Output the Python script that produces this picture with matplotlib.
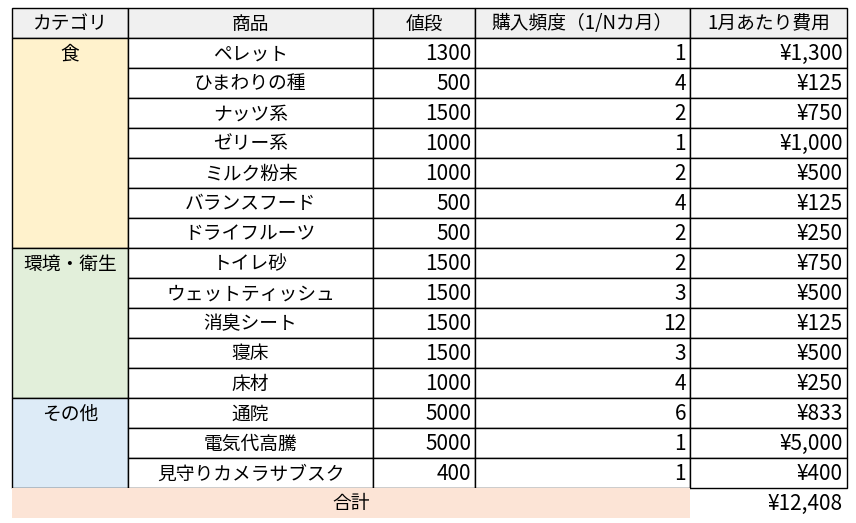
import matplotlib
matplotlib.use("Agg")
import matplotlib.pyplot as plt
from matplotlib.patches import Rectangle

plt.rcParams["font.family"] = ["Noto Sans CJK JP", "DejaVu Sans"]

headers = ["カテゴリ", "商品", "値段", "購入頻度（1/Nカ月）", "1月あたり費用"]
categories = [("食", 7, "#FFF2CC"), ("環境・衛生", 5, "#E2EFDA"), ("その他", 3, "#DDEBF7")]
items = ["ペレット", "ひまわりの種", "ナッツ系", "ゼリー系", "ミルク粉末", "バランスフード",
         "ドライフルーツ", "トイレ砂", "ウェットティッシュ", "消臭シート", "寝床", "床材",
         "通院", "電気代高騰", "見守りカメラサブスク"]
prices = [1300, 500, 1500, 1000, 1000, 500, 500, 1500, 1500, 1500, 1500, 1000, 5000, 5000, 400]
freq = [1, 4, 2, 1, 2, 4, 2, 2, 3, 12, 3, 4, 6, 1, 1]
monthly = ["¥1,300", "¥125", "¥750", "¥1,000", "¥500", "¥125", "¥250", "¥750", "¥500",
           "¥125", "¥500", "¥250", "¥833", "¥5,000", "¥400"]
total_label = "合計"
total_value = "¥12,408"

cols = [12, 128, 373, 475, 690, 847]
top, rh = 8, 30
fs = 13.5
fs_num = 15

fig = plt.figure(figsize=(8.56, 5.23), dpi=100)
ax = fig.add_axes([0, 0, 1, 1])
ax.set_xlim(0, 856)
ax.set_ylim(523, 0)
ax.axis("off")


def cell(x0, x1, y0, y1, text, ha="center", color="white", border=True, size=fs):
    ax.add_patch(Rectangle((x0, y0), x1 - x0, y1 - y0, facecolor=color,
                           edgecolor="black" if border else "none", lw=1.0))
    if text is None:
        return
    tx = (x0 + x1) / 2 if ha == "center" else x1 - 4
    ax.text(tx, (y0 + y1) / 2 + 1, text, ha=ha, va="center", fontsize=size)


for i, h in enumerate(headers):
    cell(cols[i], cols[i + 1], top, top + rh, h, color="#F0F0F0")

y = top + rh
for name, n, color in categories:
    ax.add_patch(Rectangle((cols[0], y), cols[1] - cols[0], n * rh, facecolor=color,
                           edgecolor="black", lw=1.0))
    ax.text((cols[0] + cols[1]) / 2, y + rh / 2 + 1, name, ha="center", va="center", fontsize=fs)
    y += n * rh

for r in range(len(items)):
    y0 = top + rh * (r + 1)
    y1 = y0 + rh
    cell(cols[1], cols[2], y0, y1, items[r])
    cell(cols[2], cols[3], y0, y1, str(prices[r]), ha="right", size=fs_num)
    cell(cols[3], cols[4], y0, y1, str(freq[r]), ha="right", size=fs_num)
    cell(cols[4], cols[5], y0, y1, monthly[r], ha="right", size=fs_num)

y0 = top + rh * (len(items) + 1)
cell(cols[0], cols[4], y0, y0 + rh, total_label, color="#FCE4D6", border=False)
ax.text(cols[5] - 4, y0 + rh / 2 + 1, total_value, ha="right", va="center", fontsize=fs_num)

fig.savefig("out.png", dpi=100)
